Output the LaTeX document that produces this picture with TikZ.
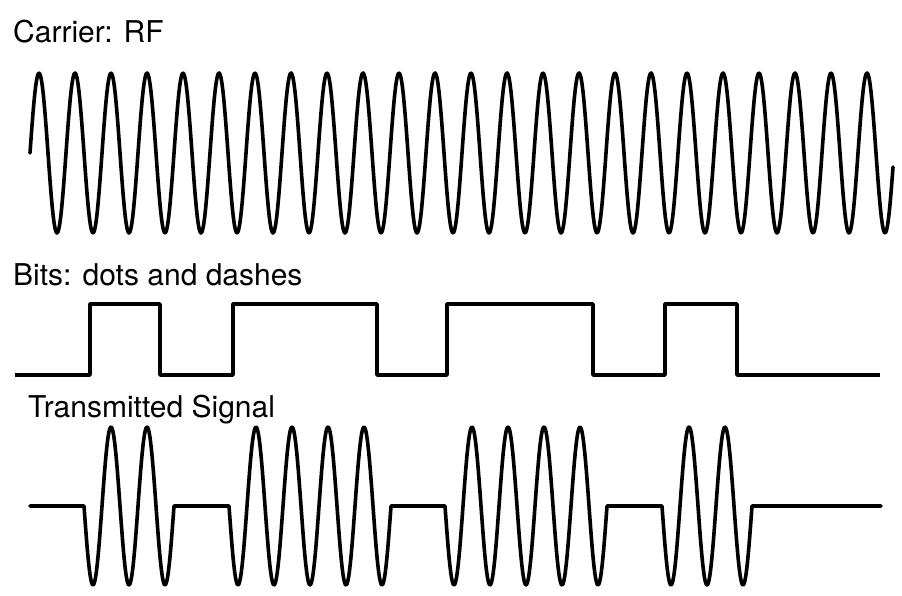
\documentclass[tikz,border=0pt]{standalone}
\usepackage{fontspec}
\setmainfont{TeX Gyre Heros}
\begin{document}
\begin{tikzpicture}[x=1pt,y=-1pt,
  wave/.style={line width=3.6pt,line join=round,line cap=round},
  lab/.style={anchor=base west,inner sep=0pt,font=\fontsize{30}{30}\selectfont}]
\useasboundingbox (0,0) rectangle (902,596);
\node[lab] (t1) at (13,43) {Carrier: RF};
\node[lab] (t2) at (13,285) {Bits: dots and dashes};
\node[lab] (t3) at (28,417) {Transmitted Signal};
% carrier
\draw[wave] plot[domain=30:893,samples=900] (\x,{153-80*sin(10*(\x-30))});
% bits
\draw[wave,line cap=butt] (15,375) -- (90,375) -- (90,304) -- (160,304) -- (160,375) -- (233,375) -- (233,304) -- (377,304) -- (377,375) -- (447,375) -- (447,304) -- (593,304) -- (593,375) -- (665,375) -- (665,304) -- (737,304) -- (737,375) -- (880,375);
% transmitted
\draw[wave] (30,506) -- (84,506)
  -- plot[domain=84:174,samples=120] (\x,{506+79*sin(10*(\x-84))})
  -- (229,506)
  -- plot[domain=229:391,samples=200] (\x,{506+79*sin(10*(\x-229))})
  -- (445,506)
  -- plot[domain=445:607,samples=200] (\x,{506+79*sin(10*(\x-445))})
  -- (662,506)
  -- plot[domain=662:752,samples=120] (\x,{506+79*sin(10*(\x-662))})
  -- (881,506);
\end{tikzpicture}
\end{document}
